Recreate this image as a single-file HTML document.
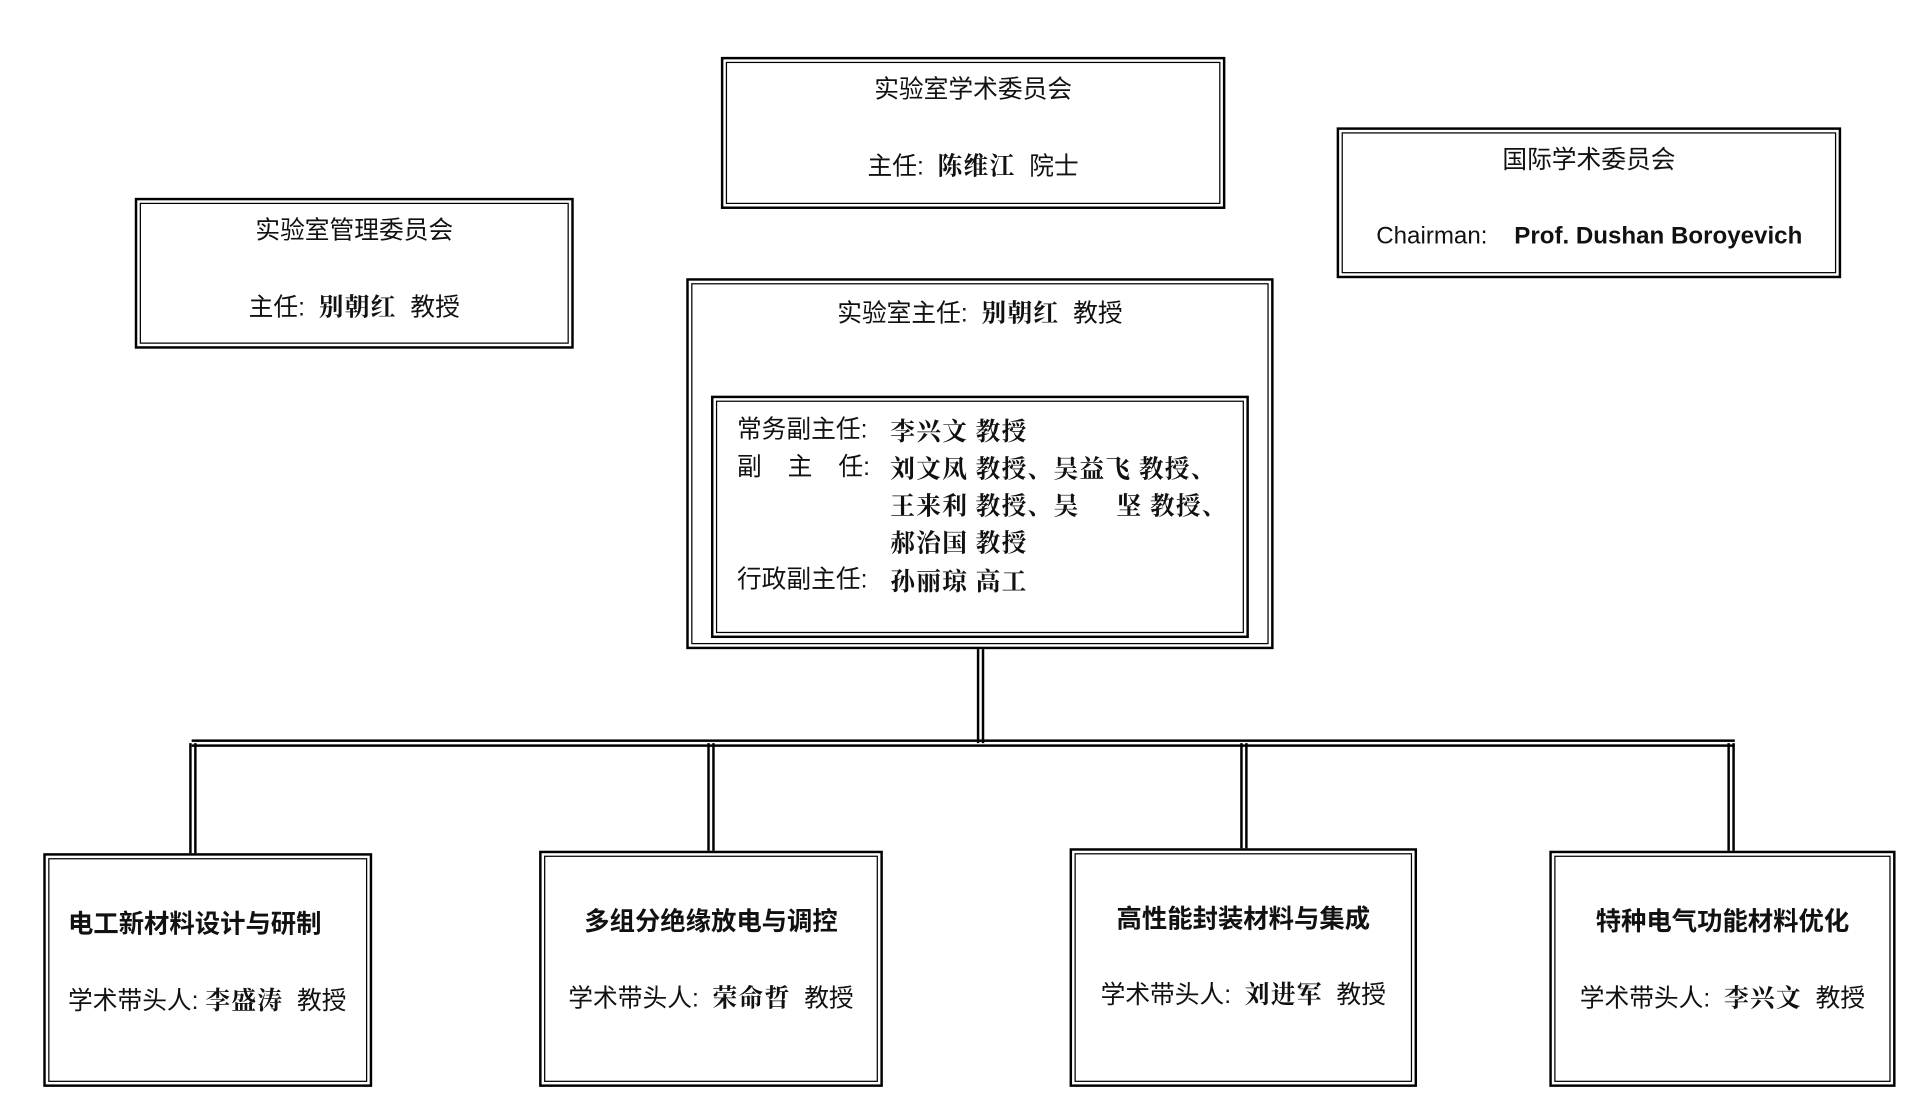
<!DOCTYPE html>
<html><head><meta charset="utf-8"><style>
html,body{margin:0;padding:0;background:#fff;width:1929px;height:1120px;overflow:hidden}
#w{position:absolute;left:0;top:0;width:1560px;height:906px;transform:scale(1.2365);transform-origin:0 0;font-family:"Liberation Sans","Noto Sans CJK SC",sans-serif;color:#111}
.b{position:absolute;box-sizing:border-box;border:2px solid #000}
.b::after{content:"";position:absolute;left:2px;top:2px;right:2px;bottom:2px;border:1px solid #000}
.t{position:absolute;white-space:nowrap;font-size:20px;line-height:24px}
.c{text-align:center}
.n{font-family:"Noto Serif CJK SC",serif;font-weight:bold;letter-spacing:1px}
.bt{font-weight:bold;font-size:20.5px}
.v{position:absolute;box-sizing:border-box;border-left:2px solid #000;border-right:2px solid #000;width:6px}
.h{position:absolute;box-sizing:border-box;border-top:2px solid #000;border-bottom:2px solid #000;height:6px}
</style></head><body><div id="w">
<div class="b" style="left:583px;top:46px;width:408px;height:123px"></div>
<div class="t c" style="left:583px;width:408px;top:61px">实验室学术委员会</div>
<div class="t c" style="left:583px;width:408px;top:121px">主任: &nbsp;<span class="n">陈维江</span> &nbsp;院士</div>

<div class="b" style="left:109px;top:160px;width:355px;height:122px"></div>
<div class="t c" style="left:109px;width:355px;top:175px">实验室管理委员会</div>
<div class="t c" style="left:109px;width:355px;top:235px">主任: &nbsp;<span class="n">别朝红</span> &nbsp;教授</div>

<div class="b" style="left:1081px;top:103px;width:408px;height:122px"></div>
<div class="t c" style="left:1081px;width:408px;top:118px">国际学术委员会</div>
<div class="t" style="left:1113px;top:179px;font-size:19.5px">Chairman: &nbsp;&nbsp;&nbsp;<b>Prof. Dushan Boroyevich</b></div>

<div class="b" style="left:555px;top:225px;width:475px;height:300px"></div>
<div class="t c" style="left:555px;width:475px;top:240px">实验室主任: &nbsp;<span class="n">别朝红</span> &nbsp;教授</div>
<div class="b" style="left:575px;top:320px;width:435px;height:196px"></div>
<div class="t" style="left:596px;top:336px">常务副主任:</div>
<div class="t" style="left:596px;top:366px">副</div>
<div class="t" style="left:637px;top:366px">主</div>
<div class="t" style="left:678px;top:366px">任:</div>
<div class="t" style="left:596px;top:457px">行政副主任:</div>
<div class="t n" style="left:720px;top:336px">李兴文 教授</div>
<div class="t n" style="left:720px;top:366px">刘文凤 教授、吴益飞 教授、</div>
<div class="t n" style="left:720px;top:396px">王来利 教授、吴&nbsp;&nbsp;&nbsp;&nbsp;&nbsp;坚 教授、</div>
<div class="t n" style="left:720px;top:426px">郝治国 教授</div>
<div class="t n" style="left:720px;top:457px">孙丽琼 高工</div>

<div class="v" style="left:790px;top:525px;height:76px"></div>
<div class="h" style="left:155px;top:598px;width:1248px"></div>
<div class="v" style="left:153px;top:601px;height:89px"></div>
<div class="v" style="left:572px;top:601px;height:87px"></div>
<div class="v" style="left:1003px;top:601px;height:85px"></div>
<div class="v" style="left:1397px;top:601px;height:87px"></div>

<div class="b" style="left:35px;top:690px;width:266px;height:189px"></div>
<div class="t bt" style="left:55px;top:736px">电工新材料设计与研制</div>
<div class="t" style="left:55px;top:796px">学术带头人: <span class="n">李盛涛</span> &nbsp;教授</div>

<div class="b" style="left:436px;top:688px;width:278px;height:191px"></div>
<div class="t bt c" style="left:436px;width:278px;top:734px">多组分绝缘放电与调控</div>
<div class="t c" style="left:436px;width:278px;top:794px">学术带头人: &nbsp;<span class="n">荣命哲</span> &nbsp;教授</div>

<div class="b" style="left:865px;top:686px;width:281px;height:193px"></div>
<div class="t bt c" style="left:865px;width:281px;top:732px">高性能封装材料与集成</div>
<div class="t c" style="left:865px;width:281px;top:791px">学术带头人: &nbsp;<span class="n">刘进军</span> &nbsp;教授</div>

<div class="b" style="left:1253px;top:688px;width:280px;height:191px"></div>
<div class="t bt c" style="left:1253px;width:280px;top:734px">特种电气功能材料优化</div>
<div class="t c" style="left:1253px;width:280px;top:794px">学术带头人: &nbsp;<span class="n">李兴文</span> &nbsp;教授</div>
</div></body></html>
